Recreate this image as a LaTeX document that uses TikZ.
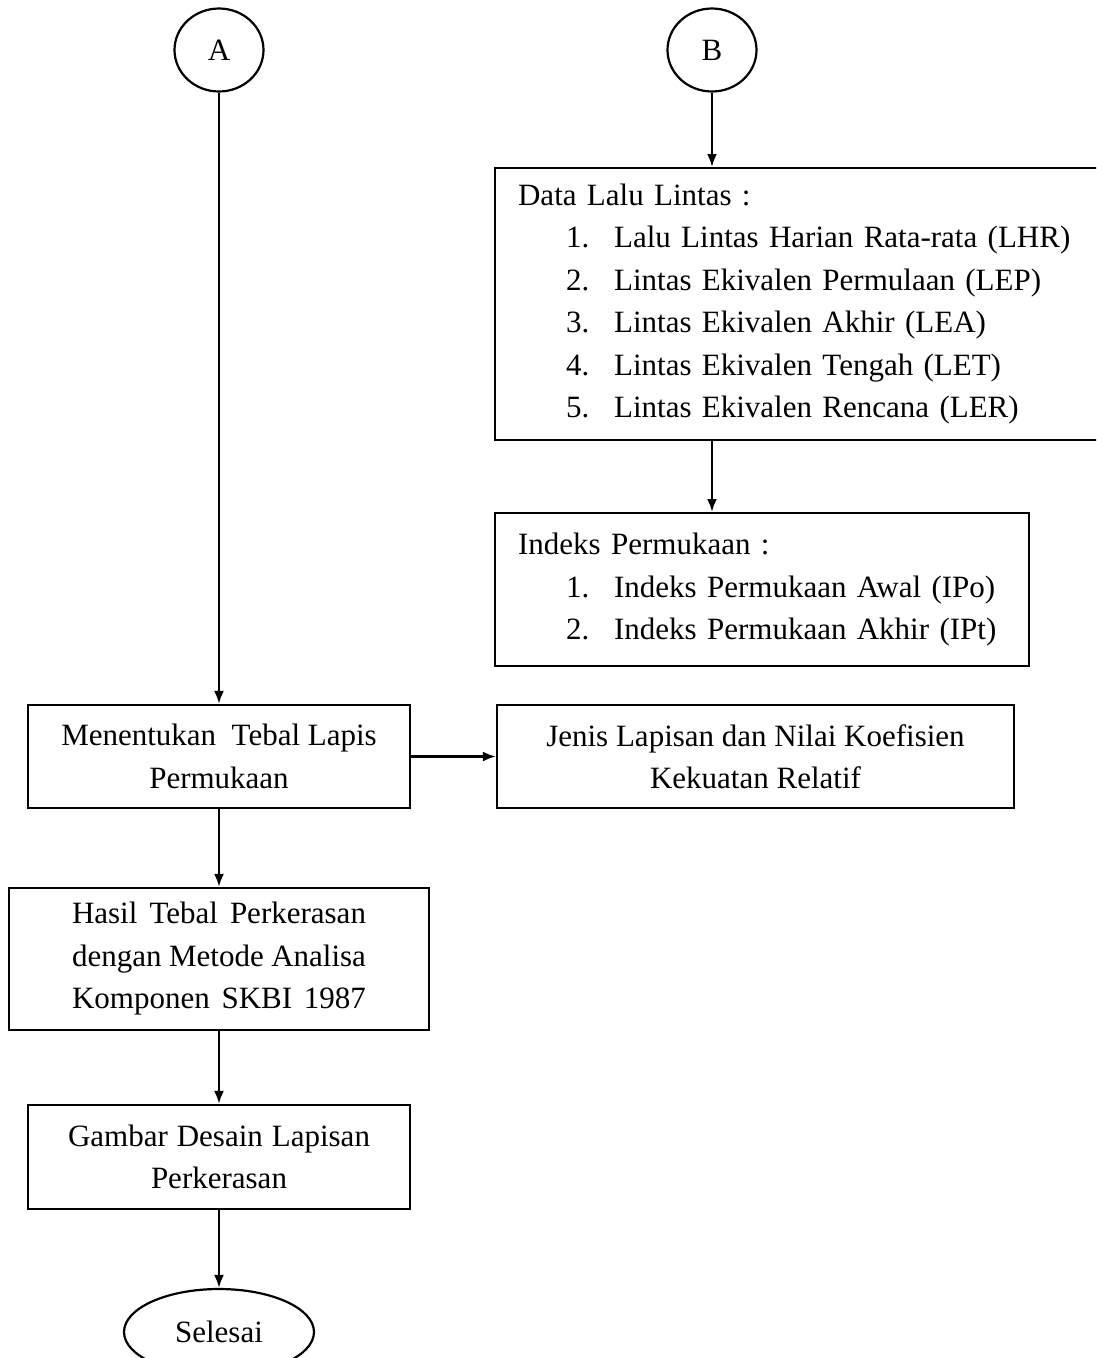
\documentclass[tikz,border=0pt]{standalone}
\usepackage{fontspec}
\setmainfont{Liberation Serif}
\usetikzlibrary{arrows.meta,shapes.geometric}

\begin{document}
\begin{tikzpicture}[x=1pt,y=-1pt,
  box/.style={draw,line width=2.2pt,rectangle,align=center,inner sep=0pt,font=\fontsize{31}{42.5}\selectfont},
  listbox/.style={box,align=left,anchor=north west,inner xsep=23pt},
  oval/.style={draw,line width=2.2pt,ellipse,inner sep=0pt,font=\fontsize{31}{42.5}\selectfont},
  arr/.style={line width=2.4pt,-{Latex[length=13pt,width=10pt]}}]
\useasboundingbox (0,0) rectangle (1096,1358);
\clip (0,0) rectangle (1096,1358);
\newcommand{\itm}[1]{\hspace*{48pt}\makebox[48pt][l]{#1}}

\node[oval,minimum width=89pt,minimum height=83pt] (A) at (219,50) {A};
\node[oval,minimum width=89pt,minimum height=83pt] (B) at (712,50) {B};

\node[listbox,text width=574pt,minimum height=272pt] (data) at (494,167) {Data Lalu Lintas :\\
\itm{1.}Lalu Lintas Harian Rata-rata (LHR)\\
\itm{2.}Lintas Ekivalen Permulaan (LEP)\\
\itm{3.}Lintas Ekivalen Akhir (LEA)\\
\itm{4.}Lintas Ekivalen Tengah (LET)\\
\itm{5.}Lintas Ekivalen Rencana (LER)};
\node[listbox,text width=488pt,minimum height=153pt] (idx) at (494,512) {Indeks Permukaan :\\
\itm{1.}Indeks Permukaan Awal (IPo)\\
\itm{2.}Indeks Permukaan Akhir (IPt)};

\node[box,minimum width=382pt,minimum height=103pt] (ment) at (219,756.5) {Menentukan\ \ Tebal Lapis\\Permukaan};
\node[box,minimum width=517pt,minimum height=103pt] (jenis) at (755.5,756.5) {Jenis Lapisan dan Nilai Koefisien\\Kekuatan Relatif};
\node[box,minimum width=420pt,minimum height=142pt] (hasil) at (219,959) {\makebox[294pt][s]{Hasil Tebal Perkerasan}\\\makebox[294pt][s]{dengan Metode Analisa}\\\makebox[294pt][s]{Komponen SKBI 1987}};
\node[box,minimum width=382pt,minimum height=104pt] (gambar) at (219,1157) {\makebox[302pt][s]{Gambar Desain Lapisan}\\Perkerasan};
\node[oval,minimum width=190pt,minimum height=86pt] (end) at (219,1332) {Selesai};

\draw[arr] (A) -- (A |- ment.north);
\draw[arr] (B) -- (B |- data.north);
\draw[arr] (B |- data.south) -- (B |- idx.north);
\draw[arr] (ment) -- (jenis);
\draw[arr] (ment) -- (hasil);
\draw[arr] (hasil) -- (gambar);
\draw[arr] (gambar) -- (end);
\end{tikzpicture}
\end{document}
